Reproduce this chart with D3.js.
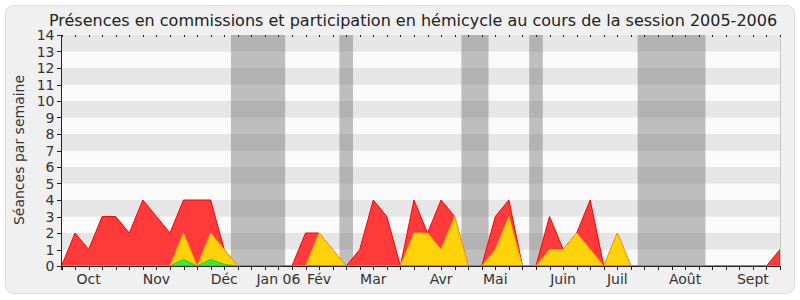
<!DOCTYPE html>
<meta charset="utf-8">
<style>
    body { margin: 0; background: #fff; }
    text { font-family: 'DejaVu Sans', sans-serif; fill: #333; }
    .title { font-size: 16px; fill: #222; }
    .tick-label { font-size: 14px; }
    .month-label { font-size: 14px; }
    .axis-title { font-size: 14px; }
    .row-dark { fill: #e6e6e6; }
    .row-light { fill: #fafafa; }
    .vacances { fill: rgba(100, 100, 100, 0.4); }
    .presence { fill: #ff3a3a; stroke: #ff0000; stroke-width: 1px; }
    .hemicycle { fill: #ffd20a; stroke: #ffaa00; stroke-width: 1px; }
    .interventions { fill: #33ee33; stroke: #22cc22; stroke-width: 1px; }
    .axis-line { stroke: #222; stroke-width: 1px; shape-rendering: crispEdges; }
</style>
<body>
<div id="chart"></div>
<script src="https://cdnjs.cloudflare.com/ajax/libs/d3/7.8.5/d3.min.js"></script>
<script>
    var width = 800,
        height = 300;

    var plot_left = 61.5,
        plot_right = 780,
        plot_top = 35,
        plot_bottom = 266;

    // one value per week, Oct 2005 -> Sept 2006
    var presences = [0, 2, 1, 3, 3, 2, 4, 3, 2, 4, 4, 4, 1, 0, 0, 0, 0, 0, 2, 2,
                     1, 0, 1, 4, 3, 0, 4, 2, 4, 3, 0, 0, 3, 4, 0, 0, 3, 1, 2, 4,
                     0, 2, 0, 0, 0, 0, 0, 0, 0, 0, 0, 0, 0, 1];
    var hemicycle = [0, 0, 0, 0, 0, 0, 0, 0, 0, 2, 0, 2, 1, 0, 0, 0, 0, 0, 0, 2,
                     1, 0, 0, 0, 0, 0, 2, 2, 1, 3, 0, 0, 1, 3, 0, 0, 1, 1, 2, 1,
                     0, 2, 0, 0, 0, 0, 0, 0, 0, 0, 0, 0, 0, 0];
    var interventions = [0, 0, 0, 0, 0, 0, 0, 0, 0, 0.4, 0, 0.4, 0.1, 0, 0, 0, 0, 0, 0, 0,
                         0, 0, 0, 0, 0, 0, 0, 0, 0, 0, 0, 0, 0, 0, 0, 0, 0, 0, 0, 0,
                         0, 0, 0, 0, 0, 0, 0, 0, 0, 0, 0, 0, 0, 0];

    // parliamentary breaks, in weeks
    var vacances = [[12.5, 16.5], [20.5, 21.5], [29.5, 31.5], [34.5, 35.5], [42.5, 47.5]];

    var month_names = ["Oct", "Nov", "Déc", "Jan 06", "Fév", "Mar", "Avr", "Mai", "Juin", "Juil", "Août", "Sept"];
    var month_weeks = [2, 7, 12, 16, 19, 23, 28, 32, 37, 41, 46, 51];

    var y_ticks = d3.range(0, 15);

    var svg = d3.select("#chart").append("svg")
        .attr("width", width)
        .attr("height", height);

    var x = d3.scaleLinear()
        .domain([0, presences.length - 1])
        .range([plot_left, plot_right]);

    var y = d3.scaleLinear()
        .domain([0, 14])
        .range([plot_bottom, plot_top]);

    svg.append("rect")
        .attr("x", 5.5).attr("y", 5.5)
        .attr("width", 789).attr("height", 288)
        .attr("rx", 8)
        .attr("fill", "#f0f0f0")
        .attr("stroke", "#dedede");

    svg.append("text")
        .attr("class", "title")
        .attr("x", 413)
        .attr("y", 26)
        .attr("text-anchor", "middle")
        .text("Présences en commissions et participation en hémicycle au cours de la session 2005-2006");

    // alternating rows
    svg.selectAll(".row")
        .data(d3.range(0, 14))
        .enter().append("rect")
        .attr("class", d => d % 2 === 1 ? "row-dark" : "row-light")
        .attr("x", plot_left)
        .attr("width", plot_right - plot_left)
        .attr("y", d => y(d + 1))
        .attr("height", d => y(d) - y(d + 1));

    svg.selectAll(".vacances")
        .data(vacances)
        .enter().append("rect")
        .attr("class", "vacances")
        .attr("x", d => x(d[0]))
        .attr("width", d => x(d[1]) - x(d[0]))
        .attr("y", plot_top)
        .attr("height", plot_bottom - plot_top);

    var area = d3.area()
        .x((d, i) => x(i))
        .y0(y(0))
        .y1(d => y(d));

    svg.append("path").datum(presences).attr("class", "presence").attr("d", area);
    svg.append("path").datum(hemicycle).attr("class", "hemicycle").attr("d", area);
    svg.append("path").datum(interventions).attr("class", "interventions").attr("d", area);

    // axes
    svg.append("line").attr("class", "axis-line")
        .attr("x1", plot_left).attr("x2", plot_left)
        .attr("y1", plot_top).attr("y2", plot_bottom + 4);
    svg.append("line").attr("class", "axis-line")
        .attr("x1", plot_left).attr("x2", plot_right)
        .attr("y1", plot_bottom).attr("y2", plot_bottom);
    svg.append("line")
        .attr("x1", plot_right + 0.5).attr("x2", plot_right + 0.5)
        .attr("y1", plot_top).attr("y2", plot_bottom)
        .attr("stroke", "#c8c8c8");

    svg.selectAll(".y-tick")
        .data(y_ticks)
        .enter().append("line")
        .attr("class", "axis-line")
        .attr("x1", plot_left - 5).attr("x2", plot_left)
        .attr("y1", d => Math.round(y(d)) + 0.5).attr("y2", d => Math.round(y(d)) + 0.5);

    svg.selectAll(".tick-label")
        .data(y_ticks)
        .enter().append("text")
        .attr("class", "tick-label")
        .attr("x", plot_left - 7)
        .attr("y", d => y(d) + 5)
        .attr("text-anchor", "end")
        .text(d => d);

    svg.selectAll(".x-tick")
        .data(presences)
        .enter().append("line")
        .attr("class", "axis-line")
        .attr("x1", (d, i) => Math.round(x(i)) + 0.5).attr("x2", (d, i) => Math.round(x(i)) + 0.5)
        .attr("y1", plot_bottom).attr("y2", plot_bottom + 4);

    svg.selectAll(".x-top-tick")
        .data(presences)
        .enter().append("line")
        .attr("class", "axis-line")
        .attr("x1", (d, i) => Math.round(x(i)) + 0.5).attr("x2", (d, i) => Math.round(x(i)) + 0.5)
        .attr("y1", plot_top).attr("y2", plot_top + 1.5);

    svg.append("line").attr("class", "axis-line")
        .attr("x1", plot_left - 5).attr("x2", plot_left)
        .attr("y1", plot_top + 0.5).attr("y2", plot_top + 0.5);

    svg.selectAll(".month-label")
        .data(month_names)
        .enter().append("text")
        .attr("class", "month-label")
        .attr("x", (d, i) => x(month_weeks[i]))
        .attr("y", 284)
        .attr("text-anchor", "middle")
        .text(d => d);

    svg.append("text")
        .attr("class", "axis-title")
        .attr("transform", "translate(24,150) rotate(-90)")
        .attr("text-anchor", "middle")
        .text("Séances par semaine");
</script>
</body>
